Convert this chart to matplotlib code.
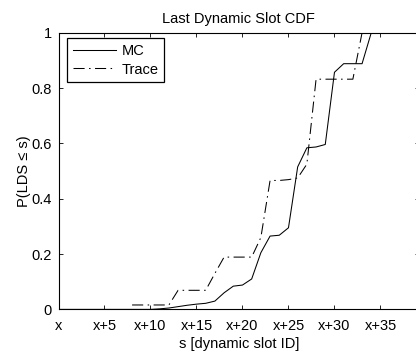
import matplotlib
matplotlib.use("Agg")
import matplotlib.pyplot as plt

# ---- data ----
mc_slots = [0, 1, 2, 3, 4, 5, 6, 7, 8, 9, 10, 11, 12, 13, 14, 15, 16, 17, 18, 19,
            20, 21, 22, 23, 24, 25, 26, 27, 28, 29, 30, 31, 32, 33, 34, 35, 36, 37, 38, 39]
mc_cdf = [0, 0, 0, 0, 0, 0, 0, 0, 0, 0, 0, 0.002, 0.005, 0.01, 0.015, 0.019, 0.022, 0.03, 0.06, 0.084,
          0.088, 0.11, 0.205, 0.265, 0.268, 0.295, 0.515, 0.584, 0.587, 0.596, 0.857, 0.888, 0.888, 0.888,
          1.0, 1.0, 1.0, 1.0, 1.0, 1.0]

trace_slots = [8, 9, 10, 11, 12, 13, 14, 15, 16, 17, 18, 19, 20, 21, 22, 23, 24, 25, 26, 27,
               28, 29, 30, 31, 32, 33, 34, 35, 36, 37, 38, 39]
trace_cdf = [0.016, 0.016, 0.016, 0.016, 0.016, 0.069, 0.069, 0.069, 0.069, 0.13, 0.189, 0.189, 0.189,
             0.189, 0.26, 0.466, 0.466, 0.469, 0.475, 0.525, 0.832, 0.832, 0.832, 0.832, 0.832, 1.0,
             1.0, 1.0, 1.0, 1.0, 1.0, 1.0]

xtick_pos = [0, 5, 10, 15, 20, 25, 30, 35]
xtick_labels = ["x", "x+5", "x+10", "x+15", "x+20", "x+25", "x+30", "x+35"]
ytick_pos = [0, 0.2, 0.4, 0.6, 0.8, 1]
ytick_labels = ["0", "0.2", "0.4", "0.6", "0.8", "1"]

plt.rcParams['font.family'] = ['Liberation Sans', 'DejaVu Sans']
plt.rcParams['lines.scale_dashes'] = False
FS = 10.5

fig = plt.figure(figsize=(4.16, 3.52), dpi=100)
ax = fig.add_axes([58.5 / 416, (352 - 309.4) / 352, 360.6 / 416, 276.7 / 352])

ax.plot(mc_slots, mc_cdf, color='black', lw=0.75, linestyle='-', label='MC')
ax.plot(trace_slots, trace_cdf, color='black', lw=0.75,
        linestyle=(0, (8, 3.2, 1.1, 3.2)), label='Trace')

ax.set_xlim(0, 39.2)
ax.set_ylim(0, 1)
ax.set_xticks(xtick_pos)
ax.set_xticklabels(xtick_labels)
ax.set_yticks(ytick_pos)
ax.set_yticklabels(ytick_labels)
ax.tick_params(direction='in', length=3, width=0.6, top=True, right=True,
               labelsize=FS, colors='black')
ax.tick_params(axis='x', pad=7)
ax.tick_params(axis='y', pad=5)
for s in ax.spines.values():
    s.set_linewidth(0.8)
ax.spines['right'].set_visible(False)

ax.set_title("Last Dynamic Slot CDF", fontsize=FS, pad=7)
ax.set_xlabel("s [dynamic slot ID]", fontsize=FS, labelpad=3)
ax.set_ylabel("P(LDS \u2264 s)", fontsize=FS, labelpad=0)

leg = ax.legend(loc='upper left', bbox_to_anchor=(8.2 / 360.6, 1 - 5.6 / 276.7),
                borderaxespad=0, fancybox=False, fontsize=FS, handlelength=3.0,
                handletextpad=0.35, labelspacing=0.3, borderpad=0.4, framealpha=1)
leg.get_frame().set_edgecolor('black')
leg.get_frame().set_linewidth(0.9)

fig.savefig("out.png", dpi=100)
